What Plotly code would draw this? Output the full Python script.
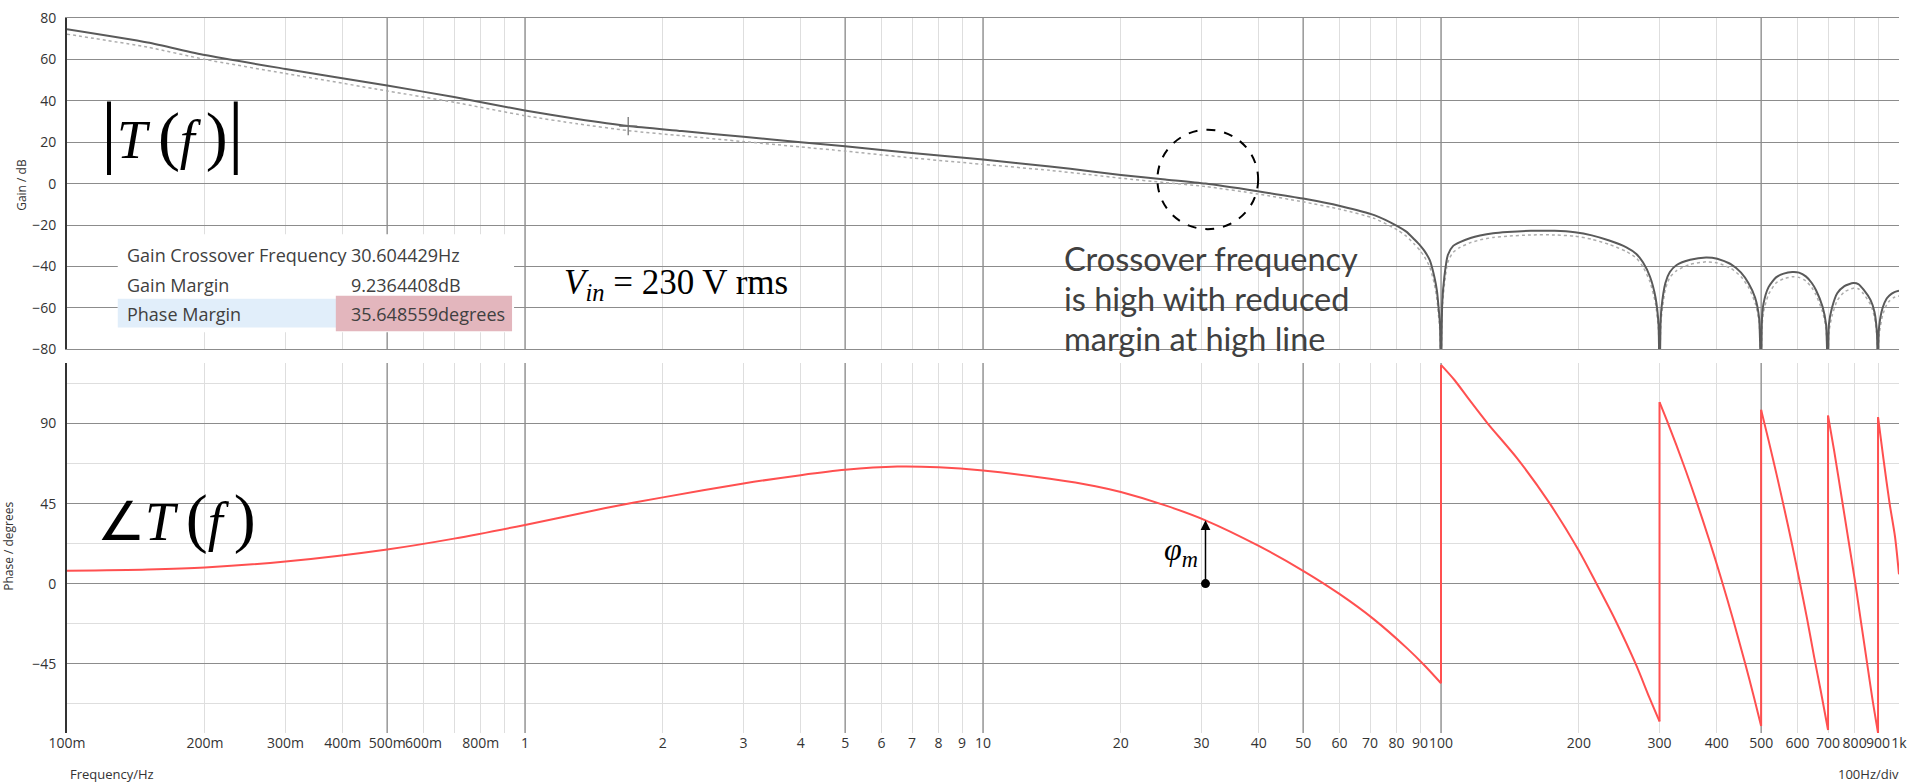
import math
import plotly.graph_objects as go

# ---------------- data ----------------
# Loop gain |T(f)| (solid) at Vin = 230 V rms
gain_freq = [0.1, 0.15, 0.2, 0.3, 0.5, 0.7, 1, 1.3, 1.68, 2.2, 3, 4, 5, 7, 10, 14, 17.3, 20, 25,
             30.6, 39.8, 50, 60.5, 71.5, 80.3, 84, 87.4, 90, 92, 94.5, 96.7, 98, 98.9, 99.5, 100,
             100.6, 101.7, 103.5, 106.2, 110, 116, 121.7, 130, 139.5, 157, 177, 196, 213.5, 233, 254,
             267, 276, 286, 294, 298.5, 300,
             301.5, 303, 309, 316, 327, 350, 379, 401, 430, 452, 469, 485, 495, 500,
             502, 506, 519, 539, 560, 585, 605, 626, 645, 659, 681, 693, 700,
             703, 714, 733, 760, 795, 815, 837, 867, 884, 895, 900,
             904, 921, 940, 953, 975, 1000]
gain_db = [74.6, 68.2, 62.1, 55.4, 47.4, 41.8, 35.3, 31.2, 27.8, 25.4, 22.6, 20.0, 18.0, 14.8, 11.6, 8.3, 5.9, 4.2, 2.0,
           0.0, -3.7, -7.2, -10.9, -15.2, -20.5, -23.2, -26.9, -29.8, -32.5, -37.0, -45.0, -52.0, -61.0, -68.0, -100.0,
           -58.0, -45.0, -34.5, -30.2, -28.3, -26.3, -25.1, -24.0, -23.4, -22.8, -22.8, -23.5, -25.0, -27.5, -30.8,
           -34.0, -38.0, -45.0, -55.0, -68.0, -100.0,
           -68.0, -60.0, -48.0, -42.7, -39.3, -36.8, -35.7, -36.3, -39.0, -43.0, -48.0, -55.0, -65.0, -100.0,
           -66.0, -58.0, -50.0, -45.3, -43.5, -42.7, -43.0, -44.8, -48.0, -51.5, -59.5, -68.0, -100.0,
           -68.0, -60.0, -53.0, -49.5, -48.0, -48.5, -51.2, -56.3, -62.0, -72.0, -100.0,
           -70.0, -60.0, -55.5, -54.0, -52.5, -51.8]

# comparison curve (dotted grey)
gain_ref_freq = gain_freq
gain_ref_db = [72.2, 65.9, 60.0, 53.2, 44.8, 39.3, 32.8, 28.9, 25.6, 23.1, 20.3, 17.7, 15.7, 12.4, 9.3, 6.4, 4.2, 2.6, 0.5,
               -1.4, -5.0, -8.8, -12.5, -16.8, -22.4, -25.4, -29.2, -32.3, -35.3, -40.3, -48.5, -56.0, -65.0, -72.0, -100.0,
               -62.0, -49.0, -38.0, -33.3, -30.8, -28.5, -27.2, -26.0, -25.4, -24.8, -24.8, -25.4, -26.9, -29.4, -32.8,
               -36.0, -40.2, -47.5, -58.0, -71.0, -100.0,
               -72.0, -64.0, -51.0, -45.3, -42.0, -39.0, -37.8, -38.3, -41.0, -45.0, -50.0, -57.5, -67.0, -100.0,
               -70.0, -62.0, -53.5, -48.0, -46.0, -45.0, -45.3, -47.0, -50.2, -53.8, -62.0, -70.0, -100.0,
               -72.0, -64.0, -56.5, -52.3, -50.5, -50.8, -53.3, -58.5, -64.5, -74.0, -100.0,
               -74.0, -63.5, -58.5, -56.7, -55.0, -54.3]

# phase of T(f) in degrees (a repeated frequency marks a wrap jump)
phase_freq = [0.1, 0.15, 0.2, 0.3, 0.5, 0.7, 1, 1.5, 2, 3, 4, 5, 6.5, 8, 10, 14, 17.6, 20, 25, 30.6,
              40, 50, 60, 71.4, 84.6, 92.3, 100,
              100, 107, 115.6, 126.5, 146.8, 172, 199.6, 218, 240, 267, 285, 300,
              300, 314, 327, 343, 360, 385, 408.6, 435, 461, 482, 500,
              500, 520, 540, 561, 583, 606, 630, 653, 675, 700,
              700, 722, 750, 776, 802, 826, 851, 875, 900,
              900, 925, 954, 980, 1000]
phase_deg = [7.3, 8.0, 9.1, 12.4, 19.2, 25.3, 33.0, 42.5, 48.5, 56.3, 61.0, 64.0, 65.8, 65.4, 63.6, 59.0, 54.8, 51.5, 44.0, 35.6,
             21.2, 7.2, -5.8, -20.1, -36.7, -46.3, -56.0,
             123.0, 114.5, 103.0, 90.0, 70.3, 45.8, 18.9, 0.5, -20.3, -46.0, -64.0, -77.5,
             102.0, 89.3, 77.4, 62.9, 47.4, 24.7, 3.2, -20.9, -44.5, -63.6, -80.0,
             97.7, 79.7, 61.7, 42.8, 23.0, 2.0, -19.8, -41.5, -60.5, -82.3,
             94.5, 74.5, 48.0, 24.0, 1.0, -21.5, -44.0, -65.0, -84.0,
             93.6, 70.0, 45.0, 26.5, 5.2]

# cursor marker on the gain curve
cursor_freq = [1.68]
cursor_db = [27.8]

# measurement readout
CROSSOVER_HZ = 30.604429
GAIN_MARGIN_DB = 9.2364408
PHASE_MARGIN_DEG = 35.648559
readout_labels = ["Gain Crossover Frequency", "Gain Margin", "Phase Margin"]
readout_values = ["30.604429Hz", "9.2364408dB", "35.648559degrees"]

# axis ticks
x_tick_vals = [0.1, 0.2, 0.3, 0.4, 0.5, 0.6, 0.7, 0.8, 0.9,
               1, 2, 3, 4, 5, 6, 7, 8, 9,
               10, 20, 30, 40, 50, 60, 70, 80, 90,
               100, 200, 300, 400, 500, 600, 700, 800, 900, 1000]
x_tick_text = ["100m", "200m", "300m", "400m", "500m", "600m", "", "800m", "",
               "1", "2", "3", "4", "5", "6", "7", "8", "9",
               "10", "20", "30", "40", "50", "60", "70", "80", "90",
               "100", "200", "300", "400", "500", "600", "700", "800", "900", "1k"]
x_major_grid = [0.5, 1, 5, 10, 50, 100, 500]
gain_range = [-80, 80]
phase_range = [-84, 124]

# ---------------- layout geometry ----------------
W, H = 1915, 783
ML, MR, MT, MB = 67, 8, 12, 50
PW, PH = W - ML - MR, H - MT - MB


def px(x):
    return (x - ML) / PW


def py(y):
    return (H - MB - y) / PH


DARK = "#8c8c8c"
LIGHT = "#dedede"
AXIS = "#333333"
TXT = "#333333"
UI_FONT = "Open Sans"
SERIF = "Liberation Serif"
RED = "rgb(255,80,80)"

fig = go.Figure()

fig.add_trace(go.Scatter(x=gain_ref_freq, y=gain_ref_db, mode="lines", line_shape="spline",
                         line=dict(color="#adadad", width=1.5, dash="dot", smoothing=0.6),
                         xaxis="x", yaxis="y", showlegend=False, hoverinfo="skip"))
fig.add_trace(go.Scatter(x=gain_freq, y=gain_db, mode="lines", line_shape="spline",
                         line=dict(color="#5a5a5a", width=2, smoothing=0.6),
                         xaxis="x", yaxis="y", showlegend=False))
fig.add_trace(go.Scatter(x=cursor_freq, y=cursor_db, mode="markers",
                         marker=dict(symbol="cross-thin", size=13, line=dict(color="#6a6a6a", width=1.2)),
                         xaxis="x", yaxis="y", showlegend=False))

# phase: split into continuous branches at the wrap jumps
segments = []
start = 0
for i in range(1, len(phase_freq)):
    if phase_freq[i] == phase_freq[i - 1]:
        segments.append((start, i))
        start = i
segments.append((start, len(phase_freq)))
for a, b in segments:
    fig.add_trace(go.Scatter(x=phase_freq[a:b], y=phase_deg[a:b], mode="lines", line_shape="spline",
                             line=dict(color=RED, width=2, smoothing=0.8),
                             xaxis="x2", yaxis="y2", showlegend=False))
for (a, b), (c, d) in zip(segments[:-1], segments[1:]):
    fig.add_trace(go.Scatter(x=[phase_freq[b - 1], phase_freq[c]], y=[phase_deg[b - 1], phase_deg[c]],
                             mode="lines", line=dict(color=RED, width=2),
                             xaxis="x2", yaxis="y2", showlegend=False))

fig.add_trace(go.Scatter(x=[CROSSOVER_HZ], y=[0], mode="markers",
                         marker=dict(color="black", size=9),
                         xaxis="x2", yaxis="y2", showlegend=False))

shapes = []
for v in x_major_grid:
    shapes.append(dict(type="line", xref="x", yref="y", x0=v, x1=v, y0=gain_range[0], y1=gain_range[1],
                       line=dict(color=DARK, width=1.3), layer="between"))
    shapes.append(dict(type="line", xref="x2", yref="y2", x0=v, x1=v, y0=phase_range[0], y1=phase_range[1],
                       line=dict(color=DARK, width=1.3), layer="between"))

# crossover circle (dashed)
shapes.append(dict(type="circle", xref="x", yref="y",
                   x0=CROSSOVER_HZ * 10 ** -0.105, x1=CROSSOVER_HZ * 10 ** 0.115, y0=-22, y1=26,
                   line=dict(color="black", width=2, dash="dash"), layer="above"))

# readout panel
shapes.append(dict(type="rect", xref="paper", yref="paper", x0=px(118), x1=px(516), y0=py(329), y1=py(230),
                   fillcolor="white", line=dict(width=0), layer="above"))
shapes.append(dict(type="rect", xref="paper", yref="paper", x0=px(118), x1=px(338), y0=py(324), y1=py(295),
                   fillcolor="#e1eefa", line=dict(width=0), layer="above"))
shapes.append(dict(type="rect", xref="paper", yref="paper", x0=px(337), x1=px(514), y0=py(328), y1=py(292),
                   fillcolor="#e3b6bd", line=dict(width=0), layer="above"))

ann = []


def text_at(text, x, y, size, family=UI_FONT, color=TXT, xanchor="center", angle=0):
    ann.append(dict(text=text, x=px(x), y=py(y), xref="paper", yref="paper", xanchor=xanchor,
                    yanchor="middle", textangle=angle, showarrow=False,
                    font=dict(family=family, size=size, color=color)))


# axis titles
text_at("Gain / dB", 21, 180, 12, angle=-90)
text_at("Phase / degrees", 8, 545, 12, angle=-90)
text_at("Frequency/Hz", 68, 774, 13, xanchor="left")
text_at("100Hz/div", 1909, 774, 13, xanchor="right")

# math labels
TS = "\u2009"
text_at('<span style="font-size:80px">|</span><i>T</i>' + TS + '<span style="font-size:66px">(</span>'
        '<i>f</i>' + TS + '<span style="font-size:66px">)</span><span style="font-size:80px">|</span>',
        173, 126, 54, family=SERIF, color="black")
text_at('∠<i>T</i>' + TS + '<span style="font-size:66px">(</span><i>f</i>' + TS +
        '<span style="font-size:66px">)</span>', 177, 516, 54, family=SERIF, color="black")
text_at("<i>V<sub>in</sub></i> = 230 V rms", 564, 281, 35, family=SERIF, color="black", xanchor="left")
text_at("<i>φ<sub>m</sub></i>", 1186, 550, 32, family=SERIF, color="black")

# explanatory note
for line, yc in zip(["Crossover frequency", "is high with reduced", "margin at high line"], [255, 295, 335]):
    text_at(line, 1066, yc, 32.5, family="Lato", color="#404040", xanchor="left")

# readout text
for lab, val, yc in zip(readout_labels, readout_values, [251, 281, 310]):
    text_at(lab, 125, yc, 18, color="#404040", xanchor="left")
    text_at(val, 350, yc, 18, color="#404040", xanchor="left")

# phase margin arrow
ann.append(dict(text="", x=math.log10(CROSSOVER_HZ), y=PHASE_MARGIN_DEG, xref="x2", yref="y2",
                ax=math.log10(CROSSOVER_HZ), ay=0, axref="x2", ayref="y2", showarrow=True,
                arrowhead=2, arrowsize=1.3, arrowwidth=1.5, arrowcolor="black", standoff=0, startstandoff=0))

tickfont = dict(family=UI_FONT, size=14, color=TXT)

fig.update_layout(
    width=W, height=H,
    margin=dict(l=ML, r=MR, t=MT, b=MB),
    paper_bgcolor="white", plot_bgcolor="white",
    showlegend=False,
    xaxis=dict(domain=[0, 1], anchor="y", type="log", range=[-1, 3],
               tickmode="array", tickvals=x_tick_vals, showticklabels=False, ticks="",
               showgrid=True, gridcolor=LIGHT, gridwidth=1,
               showline=True, mirror=True, linecolor=DARK, linewidth=1.3, zeroline=False),
    yaxis=dict(domain=[py(346), 1], anchor="x", range=gain_range, tickmode="linear", tick0=0, dtick=20,
               showgrid=True, gridcolor=DARK, gridwidth=1.3, zeroline=False,
               showline=True, linecolor=AXIS, linewidth=2, ticks="", ticklabelstandoff=6,
               tickfont=tickfont),
    xaxis2=dict(domain=[0, 1], anchor="y2", type="log", range=[-1, 3], matches="x",
                tickmode="array", tickvals=x_tick_vals, ticktext=x_tick_text, ticks="",
                showgrid=True, gridcolor=LIGHT, gridwidth=1, showline=False, zeroline=False,
                tickfont=tickfont, tickangle=0, ticklabeloverflow="allow"),
    yaxis2=dict(domain=[0, py(360)], anchor="x2", range=phase_range, tickmode="linear", tick0=0, dtick=45,
                showgrid=True, gridcolor=DARK, gridwidth=1.3, zeroline=False,
                minor=dict(tick0=0, dtick=22.5, showgrid=True, gridcolor=LIGHT, gridwidth=1),
                showline=True, linecolor=AXIS, linewidth=2, ticks="", ticklabelstandoff=6,
                tickfont=tickfont),
    shapes=shapes,
    annotations=ann,
)

fig.write_html("out.html", config={"displayModeBar": False},
               post_script="document.body.style.margin='0';document.body.style.overflow='hidden';")
